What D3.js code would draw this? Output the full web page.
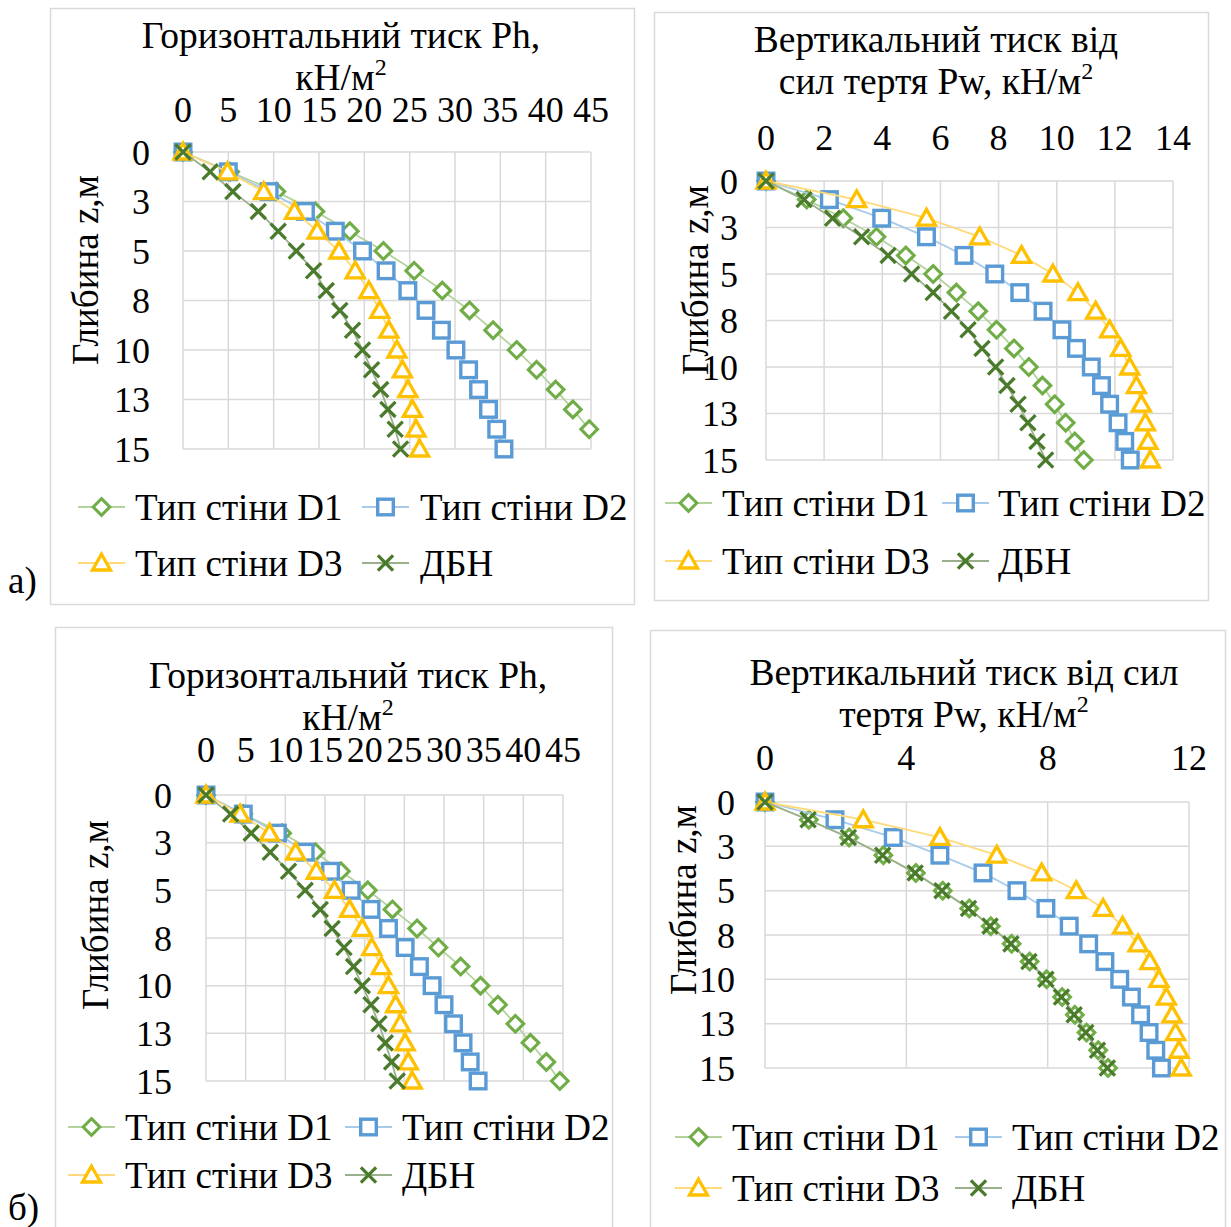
<!DOCTYPE html>
<html><head><meta charset="utf-8">
<script src="https://cdn.jsdelivr.net/npm/d3@7"></script>
<style>body{margin:0;background:#fff}svg{display:block}text{font-family:"Liberation Serif","Times New Roman",serif;fill:#000}</style>
</head><body>
<svg id="c" width="1231" height="1227"></svg>
<script>
// depth values (m)
const depth = [0,1,2,3,4,5,6,7,8,9,10,11,12,13,14,15];
const yTickValues = [0,2.5,5,7.5,10,12.5,15];
const yTickLabels = ["0","3","5","8","10","13","15"];
const seriesNames = ["Тип стіни D1","Тип стіни D2","Тип стіни D3","ДБН"];

// а) Horizontal pressure Ph
const aPh_D1  = [0,5.2,10.3,14.6,18.4,22.1,25.5,28.6,31.6,34.2,36.8,39.0,41.1,43.0,44.8];
const aPh_D2  = [0,5.0,9.5,13.5,16.8,19.8,22.4,24.8,26.8,28.5,30.1,31.5,32.6,33.7,34.6,35.4];
const aPh_D3  = [0,4.9,8.9,12.3,14.8,17.2,19.0,20.5,21.7,22.7,23.6,24.2,24.8,25.3,25.7,26.1];
const aPh_DBN = [0,3.0,5.5,8.3,10.5,12.5,14.4,15.8,17.3,18.7,19.8,20.8,21.8,22.6,23.4,24.0];
// а) Vertical pressure Pw
const aPw_D1  = [0,1.40,2.66,3.80,4.81,5.75,6.55,7.30,7.93,8.53,9.04,9.51,9.93,10.31,10.62,10.93];
const aPw_D2  = [0,2.18,3.98,5.52,6.81,7.87,8.73,9.53,10.18,10.68,11.19,11.54,11.82,12.11,12.34,12.53];
const aPw_D3  = [0,3.12,5.52,7.35,8.79,9.87,10.73,11.34,11.82,12.20,12.51,12.74,12.91,13.05,13.14,13.22];
const aPw_DBN = [0,1.31,2.29,3.29,4.20,5.01,5.75,6.38,6.95,7.43,7.90,8.29,8.67,9.01,9.32,9.62];
// б) Horizontal pressure Ph
const bPh_D1  = [0,4.7,9.6,13.8,17.0,20.4,23.5,26.6,29.3,32.1,34.6,36.8,39.0,40.9,42.9,44.6];
const bPh_D2  = [0,4.7,9.0,12.5,15.7,18.3,20.8,23.0,25.1,26.9,28.5,30.0,31.2,32.4,33.3,34.3];
const bPh_D3  = [0,4.3,8.0,11.3,13.9,16.2,18.1,19.7,20.9,22.1,23.0,23.9,24.5,25.1,25.5,26.0];
const bPh_DBN = [0,3.1,5.7,8.1,10.4,12.5,14.4,15.9,17.4,18.6,19.7,20.8,21.8,22.6,23.4,24.1];
// б) Vertical pressure Pw
const bPw_D1  = [0,1.24,2.38,3.35,4.27,5.03,5.78,6.39,6.98,7.49,7.97,8.41,8.77,9.10,9.43,9.71];
const bPw_D2  = [0,1.98,3.63,4.95,6.17,7.13,7.95,8.61,9.16,9.62,10.04,10.37,10.63,10.87,11.06,11.22];
const bPw_D3  = [0,2.78,4.95,6.56,7.83,8.81,9.57,10.12,10.56,10.89,11.15,11.36,11.52,11.62,11.72,11.78];
const bPw_DBN = [0,1.22,2.36,3.33,4.25,5.01,5.76,6.37,6.96,7.47,7.95,8.39,8.75,9.08,9.41,9.69];

const phTicks = [0,5,10,15,20,25,30,35,40,45];
const pwTicksA = [0,2,4,6,8,10,12,14];
const pwTicksB = [0,4,8,12];

const styles = [
  {marker:"diamond", mc:"#70AD47", lc:"#B4D39C"},
  {marker:"square",  mc:"#5B9BD5", lc:"#A9CBEA"},
  {marker:"triangle",mc:"#FFC000", lc:"#FFDA7A"},
  {marker:"x",       mc:"#4A7A2B", lc:"#9AAF8C"}
];

const panels = [
  {box:[50,8,634,604], title:[["Горизонтальний тиск Ph,",null],["кН/м","2"]], tx:341, ty:[48,90],
   xt:phTicks, xMax:45, xtY:122, plot:[183,591,152,449], ylX:150, yt:[85,270],
   leg:{rows:[507,563], cols:[[78,135],[362,420]]},
   data:[aPh_D1,aPh_D2,aPh_D3,aPh_DBN]},
  {box:[654,12,1208,600], title:[["Вертикальний тиск від",null],["сил тертя Pw, кН/м","2"]], tx:936, ty:[52,94],
   xt:pwTicksA, xMax:14, xtY:150, plot:[766,1173,181,460], ylX:738, yt:[695,280],
   leg:{rows:[503,561], cols:[[665,722],[942,998]]},
   data:[aPw_D1,aPw_D2,aPw_D3,aPw_DBN]},
  {box:[55,627,612,1240], title:[["Горизонтальний тиск Ph,",null],["кН/м","2"]], tx:348, ty:[688,730],
   xt:phTicks, xMax:45, xtY:762, plot:[206,563,795,1081], ylX:172, yt:[95,915],
   leg:{rows:[1127,1175], cols:[[68,125],[345,402]]},
   data:[bPh_D1,bPh_D2,bPh_D3,bPh_DBN]},
  {box:[650,630,1225,1240], title:[["Вертикальний тиск від сил",null],["тертя Pw, кН/м","2"]], tx:964, ty:[685,727],
   xt:pwTicksB, xMax:12, xtY:770, plot:[765,1189,802,1068], ylX:735, yt:[683,900],
   leg:{rows:[1137,1188], cols:[[675,732],[955,1012]]},
   data:[bPw_D1,bPw_D2,bPw_D3,bPw_DBN]}
];

const svg = d3.select("#c");
const FS_T = 37.5, FS_TICK = 36, FS_LEG = 37;

function drawMarker(g, type, color, x, y){
  const sw = 3.1;
  if(type==="diamond"){
    const r = 8.3;
    g.append("path").attr("d",`M${x},${y-r}L${x+r},${y}L${x},${y+r}L${x-r},${y}Z`)
     .attr("fill","#fff").attr("stroke",color).attr("stroke-width",sw);
  } else if(type==="square"){
    const h = 7.8;
    g.append("rect").attr("x",x-h).attr("y",y-h).attr("width",2*h).attr("height",2*h)
     .attr("fill","#fff").attr("stroke",color).attr("stroke-width",sw+0.3);
  } else if(type==="triangle"){
    g.append("path").attr("d",`M${x},${y-8.8}L${x+9},${y+7}L${x-9},${y+7}Z`)
     .attr("fill","#fff").attr("stroke",color).attr("stroke-width",sw+0.2).attr("stroke-linejoin","miter");
  } else {
    const r = 7.6;
    g.append("path").attr("d",`M${x-r},${y-r}L${x+r},${y+r}M${x+r},${y-r}L${x-r},${y+r}`)
     .attr("fill","none").attr("stroke",color).attr("stroke-width",sw+0.2);
  }
}

panels.forEach(p=>{
  const g = svg.append("g");
  g.append("rect").attr("x",p.box[0]+0.5).attr("y",p.box[1]+0.5)
   .attr("width",p.box[2]-p.box[0]).attr("height",p.box[3]-p.box[1])
   .attr("fill","#fff").attr("stroke","#D9D9D9").attr("stroke-width",1.5);

  // title
  p.title.forEach((ln,i)=>{
    const t = g.append("text").attr("x",p.tx).attr("y",p.ty[i]).attr("text-anchor","middle").attr("font-size",FS_T);
    t.append("tspan").text(ln[0]);
    if(ln[1]) t.append("tspan").attr("font-size",24).attr("dy",-15).text(ln[1]);
  });

  const x = d3.scaleLinear().domain([0,p.xMax]).range([p.plot[0],p.plot[1]]);
  const y = d3.scaleLinear().domain([0,15]).range([p.plot[2],p.plot[3]]);

  // gridlines
  g.selectAll(null).data(p.xt).enter().append("line")
   .attr("x1",d=>x(d)).attr("x2",d=>x(d)).attr("y1",p.plot[2]).attr("y2",p.plot[3])
   .attr("stroke","#D9D9D9").attr("stroke-width",1.5);
  g.selectAll(null).data(yTickValues).enter().append("line")
   .attr("x1",p.plot[0]).attr("x2",p.plot[1]).attr("y1",d=>y(d)).attr("y2",d=>y(d))
   .attr("stroke","#D9D9D9").attr("stroke-width",1.5);

  // x tick labels (top)
  g.selectAll(null).data(p.xt).enter().append("text")
   .attr("x",d=>x(d)).attr("y",p.xtY).attr("text-anchor","middle").attr("font-size",FS_TICK).text(d=>d);
  // y tick labels
  g.selectAll(null).data(yTickValues).enter().append("text")
   .attr("x",p.ylX).attr("y",d=>y(d)).attr("dy","0.35em").attr("text-anchor","end").attr("font-size",FS_TICK)
   .text((d,i)=>yTickLabels[i]);
  // y title
  g.append("text").attr("transform",`translate(${p.yt[0]},${p.yt[1]}) rotate(-90)`)
   .attr("text-anchor","middle").attr("dy","0.35em").attr("font-size",FS_LEG).text("Глибина z,м");

  // series
  p.data.forEach((vals,si)=>{
    const st = styles[si];
    const pts = vals.map((v,i)=>[x(v), y(depth[i])]);
    g.append("path").attr("d",d3.line()(pts)).attr("fill","none").attr("stroke",st.lc).attr("stroke-width",1.8);
    pts.forEach(pt=>drawMarker(g, st.marker, st.mc, pt[0], pt[1]));
  });

  // legend
  seriesNames.forEach((nm,si)=>{
    const st = styles[si];
    const row = p.leg.rows[Math.floor(si/2)];
    const col = p.leg.cols[si%2];
    g.append("line").attr("x1",col[0]).attr("x2",col[0]+47).attr("y1",row).attr("y2",row)
     .attr("stroke",st.lc).attr("stroke-width",1.8);
    drawMarker(g, st.marker, st.mc, col[0]+23.5, row);
    g.append("text").attr("x",col[1]).attr("y",row).attr("dy","0.35em").attr("font-size",FS_LEG).text(nm);
  });
});

svg.append("text").attr("x",8).attr("y",593).attr("font-size",FS_LEG).text("а)");
svg.append("text").attr("x",8).attr("y",1220).attr("font-size",FS_LEG).text("б)");
</script>
</body></html>
